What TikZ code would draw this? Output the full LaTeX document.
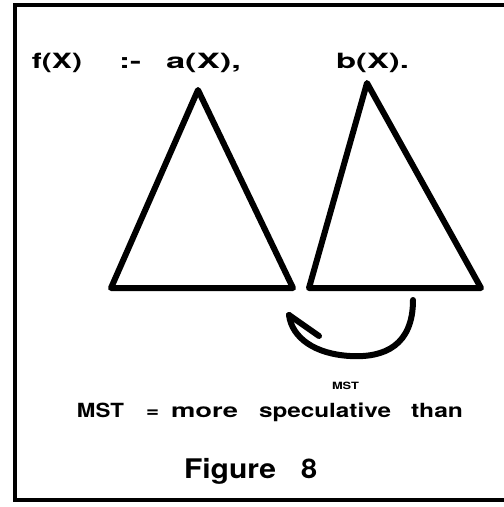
\documentclass[tikz,border=0pt]{standalone}
\usepackage{fontspec}
\usepackage{graphicx}
\setmainfont{TeX Gyre Heros}
\newcommand{\fitw}[2]{\resizebox{#1}{\height}{#2}}
\begin{document}
\begin{tikzpicture}[x=1pt,y=-1pt,
  lbl/.style={anchor=base west,inner sep=0pt,outer sep=0pt},
  fbig/.style={font=\fontsize{21}{24}\bfseries\selectfont},
  fmid/.style={font=\fontsize{19.5}{22}\bfseries\selectfont},
  fcap/.style={font=\fontsize{27}{30}\bfseries\selectfont},
  fsmall/.style={font=\fontsize{10}{11}\bfseries\selectfont},
  tri/.style={line width=6pt,line join=round},
  frame/.style={line width=3.5pt}]
\useasboundingbox (0,0) rectangle (504,507);
% frame
\coordinate (ftl) at (15,5);
\coordinate (ftr) at (504,5);
\coordinate (fbl) at (15,500);
\coordinate (fbr) at (504,500);
\draw[frame] (ftr) -- (ftl) -- (fbl) -- (fbr);
% clause text
\node[lbl,fbig] (f) at (32,68) {\fitw{50pt}{f(X)}};
\node[lbl,fbig] (nk) at (119,68) {\fitw{22pt}{:-}};
\node[lbl,fbig] (a) at (166,68) {\fitw{75pt}{a(X),}};
\node[lbl,fbig] (b) at (336,68) {\fitw{73pt}{b(X).}};
% triangles
\coordinate (t1a) at (198,90);
\coordinate (t1l) at (111,288);
\coordinate (t1r) at (293,288);
\coordinate (t2a) at (367,83);
\coordinate (t2l) at (309,288);
\coordinate (t2r) at (481,288);
\draw[tri] (t1a) -- (t1l) -- (t1r) -- cycle;
\draw[tri] (t2a) -- (t2l) -- (t2r) -- cycle;
% curved arrow
\coordinate (as) at (413,300);
\coordinate (am) at (350,356);
\coordinate (at) at (289,315);
\coordinate (ab) at (319,336);
\draw[line width=6pt,line cap=round] (as) .. controls (413,345) and (385,358) .. (am)
  .. controls (315,354) and (292,338) .. (at);
\draw[line width=6pt,line cap=round] (at) -- (ab);
% small MST
\node[lbl,fsmall] (mst) at (332,389) {\fitw{27pt}{MST}};
% legend
\node[lbl,fmid] (l1) at (77,417) {\fitw{47pt}{MST}};
\node[lbl,fmid] (l2) at (146,417) {\fitw{13pt}{=}};
\node[lbl,fmid] (l3) at (171,417) {\fitw{67pt}{more}};
\node[lbl,fmid] (l4) at (259,417) {\fitw{132pt}{speculative}};
\node[lbl,fmid] (l5) at (411,417) {\fitw{52pt}{than}};
% figure caption
\node[lbl,fcap] (fig) at (184,478) {\fitw{92pt}{Figure}};
\node[lbl,fcap] (n8) at (301,478) {\fitw{16pt}{8}};
\end{tikzpicture}
\end{document}
